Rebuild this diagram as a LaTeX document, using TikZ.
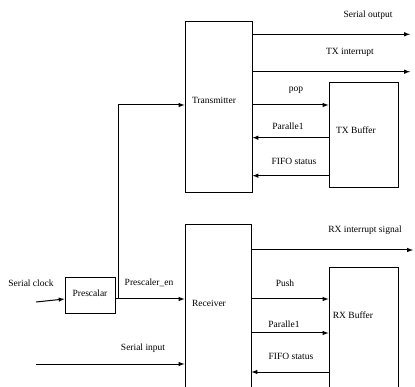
\documentclass[tikz,border=0pt]{standalone}
\usepackage{fontspec}
\setmainfont{Liberation Serif}
\usetikzlibrary{arrows}

\tikzset{
  block/.style={draw, line width=1pt, inner sep=0pt},
  sig/.style={->, >=latex, line width=1pt},
  txt/.style={inner sep=0pt, font=\fontsize{9.5}{11}\selectfont}
}

\begin{document}
\begin{tikzpicture}[x=1pt, y=-1pt]
  \path[use as bounding box, clip] (0,0) rectangle (415,387);

  % blocks
  \node[block, minimum width=67pt, minimum height=171pt] (tx) at (218.5,107.5) {};
  \node[block, minimum width=69pt, minimum height=105pt] (txb) at (363.5,135.5) {};
  \node[block, minimum width=50pt, minimum height=36pt] (pre) at (90,296) {};
  \node[block, minimum width=66pt, minimum height=195pt] (rx) at (218,322.5) {};
  \node[block, minimum width=69pt, minimum height=152pt] (rxb) at (363.5,344) {};

  % texts
  \node[txt] (txname) at (214,100) {Transmitter};
  \node[txt] (txbname) at (356,130) {TX Buffer};
  \node[txt] (prename) at (90,293) {Prescalar};
  \node[txt] (rxname) at (209,303) {Receiver};
  \node[txt] (rxbname) at (353,315) {RX Buffer};

  \node[txt] (soLab) at (368,15) {Serial output};
  \node[txt] (tiLab) at (350,52) {TX interrupt};
  \node[txt] (popLab) at (296,90) {pop};
  \node[txt] (tpLab) at (288,126) {Paralle1};
  \node[txt] (tfLab) at (294,161) {FIFO status};
  \node[txt] (scLab) at (31,283) {Serial clock};
  \node[txt] (enLab) at (149,283) {Prescaler\_en};
  \node[txt] (siLab) at (143,348) {Serial input};
  \node[txt] (riLab) at (365,230) {RX interrupt signal};
  \node[txt] (puLab) at (285,283) {Push};
  \node[txt] (rpLab) at (284,324) {Paralle1};
  \node[txt] (rfLab) at (291,356) {FIFO status};

  % free ends
  \coordinate (soEnd) at (410,34.3);
  \coordinate (tiEnd) at (410,71.7);
  \coordinate (riEnd) at (413,250);
  \coordinate (scStart) at (36,302);
  \coordinate (siStart) at (36,364);
  \coordinate (split) at (118,299);

  % transmitter side
  \draw[sig] (tx.east |- soEnd) -- (soEnd);
  \draw[sig] (tx.east |- tiEnd) -- (tiEnd);
  \draw[sig] (tx.east |- 0,105) -- (txb.west |- 0,105);
  \draw[sig] (txb.west |- 0,137.7) -- (tx.east |- 0,137.7);
  \draw[sig] (txb.west |- 0,175.7) -- (tx.east |- 0,175.7);

  % clock path
  \draw[sig] (scStart) -- (pre.west |- 0,299);
  \draw[sig] (pre.east |- split) -- (rx.west |- split);
  \draw[sig] (split) -- (split |- 0,105) -- (tx.west |- 0,105);
  \draw[sig] (siStart) -- (rx.west |- siStart);

  % receiver side
  \draw[sig] (rx.east |- riEnd) -- (riEnd);
  \draw[sig] (rx.east |- 0,299) -- (rxb.west |- 0,299);
  \draw[sig] (rx.east |- 0,333) -- (rxb.west |- 0,333);
  \draw[sig] (rxb.west |- 0,372) -- (rx.east |- 0,372);
\end{tikzpicture}
\end{document}
